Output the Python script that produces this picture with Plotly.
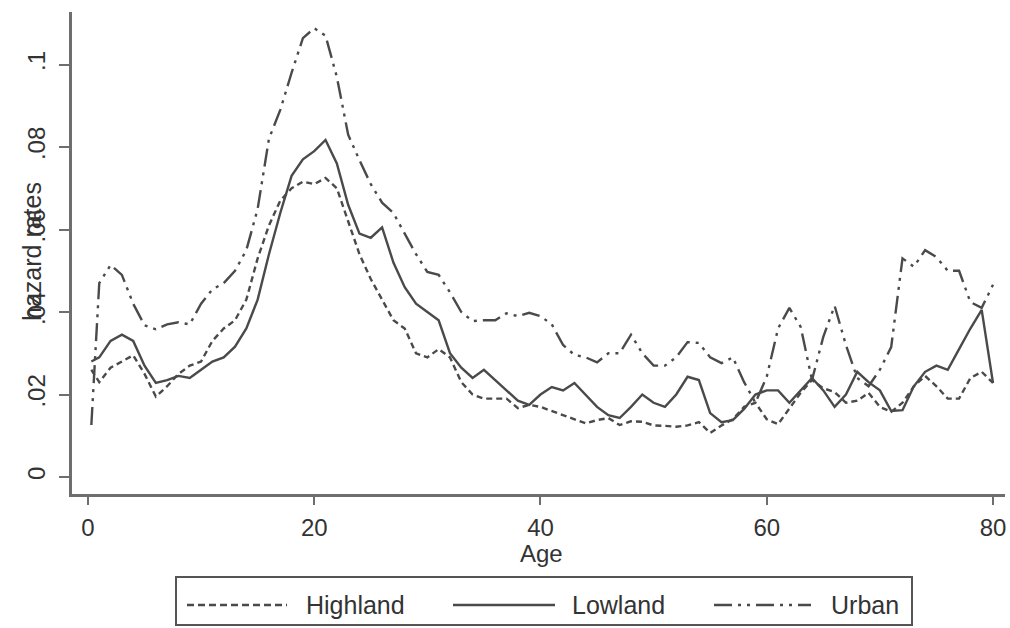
import plotly.graph_objects as go

ages = [0.3] + list(range(1, 81))

highland = [0.026, 0.023, 0.0265, 0.028, 0.0295, 0.025, 0.0195, 0.022, 0.025, 0.027,
            0.028, 0.033, 0.036, 0.038, 0.043, 0.053, 0.061, 0.067, 0.070, 0.0716,
            0.071, 0.0725, 0.070, 0.062, 0.054, 0.048, 0.043, 0.038, 0.036, 0.030,
            0.029, 0.031, 0.029, 0.023, 0.020, 0.019, 0.019, 0.019, 0.0167, 0.0175,
            0.017, 0.016, 0.015, 0.014, 0.013, 0.0138, 0.0143, 0.0126, 0.0135, 0.0134,
            0.0125, 0.0124, 0.0122, 0.0125, 0.0133, 0.0107, 0.0125, 0.014, 0.017, 0.018,
            0.014, 0.0128, 0.0165, 0.0204, 0.0235, 0.0215, 0.0206, 0.018, 0.0185, 0.0204,
            0.017, 0.0158, 0.018, 0.022, 0.0245, 0.022, 0.019, 0.019, 0.024, 0.0255,
            0.0228]

lowland = [0.028, 0.029, 0.033, 0.0345, 0.033, 0.027, 0.0228, 0.0235, 0.0245, 0.024,
           0.026, 0.028, 0.029, 0.0316, 0.036, 0.043, 0.054, 0.064, 0.073, 0.077,
           0.079, 0.0817, 0.076, 0.066, 0.059, 0.058, 0.0605, 0.052, 0.046, 0.042,
           0.040, 0.038, 0.030, 0.0265, 0.024, 0.026, 0.0235, 0.021, 0.0185, 0.0175,
           0.020, 0.0218, 0.021, 0.0228, 0.020, 0.017, 0.015, 0.0143, 0.017, 0.020,
           0.018, 0.017, 0.020, 0.0243, 0.0235, 0.0155, 0.0133, 0.0138, 0.0165, 0.020,
           0.021, 0.021, 0.018, 0.021, 0.024, 0.021, 0.017, 0.020, 0.0255, 0.023,
           0.021, 0.016, 0.0162, 0.022, 0.0255, 0.027, 0.026, 0.031, 0.036, 0.0405,
           0.0228]

urban = [0.0126, 0.047, 0.0514, 0.049, 0.042, 0.0368, 0.0358, 0.037, 0.0375, 0.037,
         0.042, 0.0455, 0.047, 0.050, 0.055, 0.065, 0.082, 0.089, 0.098, 0.1064,
         0.1088, 0.107, 0.097, 0.083, 0.0768, 0.071, 0.0665, 0.064, 0.059, 0.054,
         0.0497, 0.049, 0.0448, 0.040, 0.0378, 0.038, 0.038, 0.0397, 0.039, 0.0398,
         0.039, 0.037, 0.032, 0.0296, 0.029, 0.0278, 0.030, 0.030, 0.0345, 0.030,
         0.027, 0.027, 0.029, 0.0327, 0.0325, 0.029, 0.0276, 0.029, 0.023, 0.018,
         0.0243, 0.036, 0.041, 0.0364, 0.0235, 0.034, 0.0415, 0.032, 0.024, 0.022,
         0.026, 0.0315, 0.053, 0.051, 0.055, 0.0533, 0.050, 0.050, 0.0424, 0.041,
         0.0466]

series_names = ["Highland", "Lowland", "Urban"]
x_ticks = [0, 20, 40, 60, 80]
y_ticks = [0, 0.02, 0.04, 0.06, 0.08, 0.1]
y_tick_text = ["0", ".02", ".04", ".06", ".08", ".1"]

LINE = "#4a4a4a"
AXIS = "#6e6e6e"
TEXT = "#333333"
FONT = "Liberation Sans, Arial, sans-serif"
dashes = {"Highland": "6px,4px", "Lowland": "solid", "Urban": "18px,6px,3px,6px,3px,6px"}

W, H = 1010, 628
ML, MR, MT, MB = 72, 5, 12, 134
PW, PH = W - ML - MR, H - MT - MB


def px_x(px):
    return (px - ML) / PW


def px_y(py):
    return (H - MB - py) / PH


fig = go.Figure()
for name, vals in zip(series_names, [highland, lowland, urban]):
    fig.add_trace(go.Scatter(x=ages, y=vals, mode="lines", name=name,
                             line=dict(color=LINE, width=2.4, dash=dashes[name]),
                             showlegend=False, hoverinfo="skip"))

# legend box drawn manually
shapes = [dict(type="rect", xref="paper", yref="paper",
               x0=px_x(176), x1=px_x(912), y0=px_y(625), y1=px_y(577),
               line=dict(color="#555555", width=2), fillcolor="white")]
annotations = []
leg_y = px_y(605)
samples = [(187, 287, 304), (453, 555, 570), (714, 811, 829)]
for name, (x0, x1, tx) in zip(series_names, samples):
    d = dashes[name]
    if name == "Highland":
        d = "7px,4px"
    shapes.append(dict(type="line", xref="paper", yref="paper",
                       x0=px_x(x0), x1=px_x(x1), y0=leg_y, y1=leg_y,
                       line=dict(color=LINE, width=2.4, dash=d)))
    annotations.append(dict(text=name, xref="paper", yref="paper", x=px_x(tx), y=leg_y,
                            xanchor="left", yanchor="middle", showarrow=False,
                            font=dict(family=FONT, size=25, color=TEXT)))

annotations.append(dict(text="Age", xref="paper", yref="paper", x=px_x(541), y=px_y(553),
                        xanchor="center", yanchor="middle", showarrow=False,
                        font=dict(family=FONT, size=24, color=TEXT)))
annotations.append(dict(text="hazard rates", xref="paper", yref="paper", x=px_x(32), y=px_y(252),
                        xanchor="center", yanchor="middle", showarrow=False, textangle=-90,
                        font=dict(family=FONT, size=25, color=TEXT)))

fig.update_layout(
    width=W, height=H, autosize=False,
    margin=dict(l=ML, r=MR, t=MT, b=MB),
    paper_bgcolor="white", plot_bgcolor="white",
    shapes=shapes, annotations=annotations,
    font=dict(family=FONT, color=TEXT),
    xaxis=dict(range=[-1.41, 81.06], tickvals=x_ticks, ticks="outside", ticklen=8,
               tickwidth=2, tickcolor=AXIS, showline=True, linewidth=3, linecolor=AXIS,
               showgrid=False, zeroline=False, tickfont=dict(size=24, family=FONT, color=TEXT),
               ticklabelstandoff=2),
    yaxis=dict(range=[-0.00412, 0.11273], tickvals=y_ticks, ticktext=y_tick_text,
               tickangle=-90, ticks="outside", ticklen=10, tickwidth=2, tickcolor=AXIS,
               showline=True, linewidth=3, linecolor=AXIS, showgrid=False, zeroline=False,
               tickfont=dict(size=24, family=FONT, color=TEXT), ticklabelstandoff=4),
)

fig.write_html("out.html", config={"displayModeBar": False},
               post_script="document.body.style.margin='0px';")
